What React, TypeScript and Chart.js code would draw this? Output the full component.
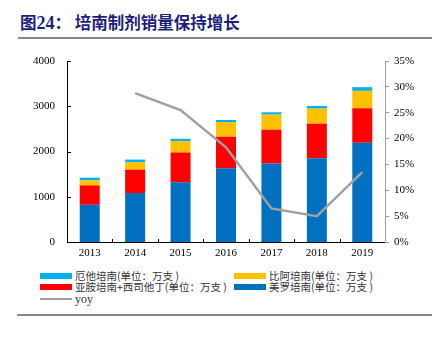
import React, { useEffect, useRef } from "react";
import { Chart, registerables } from "chart.js";

Chart.register(...registerables);

const years = ["2013", "2014", "2015", "2016", "2017", "2018", "2019"];
const meiluo = [822, 1081, 1318, 1629, 1733, 1851, 2193];
const yaan = [429, 519, 660, 697, 748, 764, 763];
const bia = [111, 162, 251, 325, 334, 333, 384];
const eta = [60, 60, 52, 45, 51, 59, 82];
const yoy = [null, 28.8, 25.5, 18.3, 6.5, 5.0, 13.5];

const labelEta = "厄他培南(单位：万支 )";
const labelBia = "比阿培南(单位：万支 )";
const labelYaan = "亚胺培南+西司他丁(单位：万支 )";
const labelMeiluo = "美罗培南(单位：万支 )";
const labelYoy = "yoy";

const C_ETA = "#00B0F0";
const C_BIA = "#FFC000";
const C_YAAN = "#FF0000";
const C_MEILUO = "#0070C0";
const C_YOY = "#A0A0A0";

const serif = "'Liberation Serif', 'Times New Roman', serif";
const cjk = "'Noto Sans CJK SC', sans-serif";

const innerTicks = {
  id: "innerTicks",
  afterDraw(chart: any) {
    const ctx = chart.ctx;
    const y = chart.scales.y;
    const x = chart.scales.x;
    ctx.save();
    ctx.strokeStyle = "#000";
    ctx.lineWidth = 1;
    y.ticks.forEach((t: any) => {
      const py = Math.round(y.getPixelForValue(t.value)) + 0.5;
      ctx.beginPath();
      ctx.moveTo(y.right, py);
      ctx.lineTo(y.right + 4, py);
      ctx.stroke();
    });
    for (let i = 1; i < years.length; i++) {
      const px = Math.round((x.getPixelForValue(i - 1) + x.getPixelForValue(i)) / 2) + 0.5;
      ctx.beginPath();
      ctx.moveTo(px, x.top);
      ctx.lineTo(px, x.top - 3);
      ctx.stroke();
    }
    ctx.restore();
  },
};

export default function App() {
  const ref = useRef<HTMLCanvasElement>(null);
  useEffect(() => {
    if (!ref.current) return;
    const chart = new Chart(ref.current, {
      type: "bar",
      data: {
        labels: years,
        datasets: [
          { type: "line", label: labelYoy, data: yoy as any, yAxisID: "y1", borderColor: C_YOY, backgroundColor: C_YOY, borderWidth: 2.5, pointRadius: 0, tension: 0, order: 0 },
          { label: labelMeiluo, data: meiluo, backgroundColor: C_MEILUO, stack: "s", order: 1 },
          { label: labelYaan, data: yaan, backgroundColor: C_YAAN, stack: "s", order: 1 },
          { label: labelBia, data: bia, backgroundColor: C_BIA, stack: "s", order: 1 },
          { label: labelEta, data: eta, backgroundColor: C_ETA, stack: "s", order: 1 },
        ],
      },
      options: {
        animation: false,
        responsive: false,
        maintainAspectRatio: false,
        layout: { padding: { top: 61, left: 0, right: 0, bottom: 0 } },
        plugins: { legend: { display: false }, tooltip: { enabled: false } },
        datasets: { bar: { barPercentage: 0.44, categoryPercentage: 1 } },
        scales: {
          x: {
            stacked: true,
            grid: { display: false, drawTicks: false },
            border: { color: "#000", width: 1 },
            ticks: { color: "#000", font: { family: serif, size: 11 }, padding: 5 },
            afterFit(s: any) { s.height = 22; },
          },
          y: {
            stacked: true,
            min: 0,
            max: 4000,
            position: "left",
            grid: { display: false, drawTicks: false },
            border: { color: "#000", width: 1 },
            ticks: { stepSize: 1000, color: "#000", font: { family: serif, size: 11 }, padding: 12, callback: (v: any) => String(v) },
            afterFit(s: any) { s.width = 67; },
          },
          y1: {
            min: 0,
            max: 35,
            position: "right",
            grid: { drawOnChartArea: false, drawTicks: true, tickLength: 4, color: "#A0A0A0" },
            border: { color: "#A0A0A0", width: 1 },
            ticks: { stepSize: 5, color: "#000", font: { family: serif, size: 11 }, padding: 5, callback: (v: any) => v + "%" },
            afterFit(s: any) { s.width = 47; },
          },
        },
      },
      plugins: [innerTicks],
    });
    return () => chart.destroy();
  }, []);

  const legendItem = (color: string, label: string, line: boolean, left: number, top: number) => (
    <div style={{ position: "absolute", left, top, height: 12, display: "flex", alignItems: "center", whiteSpace: "nowrap" }}>
      <div style={{ width: 32, height: line ? 2 : 6, background: color, marginRight: 3 }} />
      <span style={{ fontFamily: line ? serif : cjk, fontSize: line ? 12 : 10.5, color: "#333", lineHeight: "12px" }}>{label}</span>
    </div>
  );

  return (
    <div style={{ position: "fixed", left: 0, top: 0, width: 432, height: 338, background: "#fff", overflow: "hidden" }}>
      <div style={{ position: "absolute", left: 20, top: 12, fontFamily: "'Noto Sans CJK SC', sans-serif", fontWeight: "bold", fontSize: 16.5, color: "#1c1f7a", whiteSpace: "nowrap", lineHeight: "20px" }}>
        图<span style={{ fontFamily: serif, fontSize: 18 }}>24</span>：&nbsp;培南制剂销量保持增长
      </div>
      <div style={{ position: "absolute", left: 18, top: 37, width: 414, height: 2, background: "#888" }} />
      <canvas ref={ref} width={432} height={264} style={{ position: "absolute", left: 0, top: 0, width: 432, height: 264 }} />
      {legendItem(C_ETA, labelEta, false, 40, 270)}
      {legendItem(C_BIA, labelBia, false, 234, 270)}
      {legendItem(C_YAAN, labelYaan, false, 40, 281)}
      {legendItem(C_MEILUO, labelMeiluo, false, 234, 281)}
      {legendItem(C_YOY, labelYoy, true, 40, 293)}
      <div style={{ position: "absolute", left: 17, top: 314, width: 415, height: 2, background: "#888" }} />
    </div>
  );
}
